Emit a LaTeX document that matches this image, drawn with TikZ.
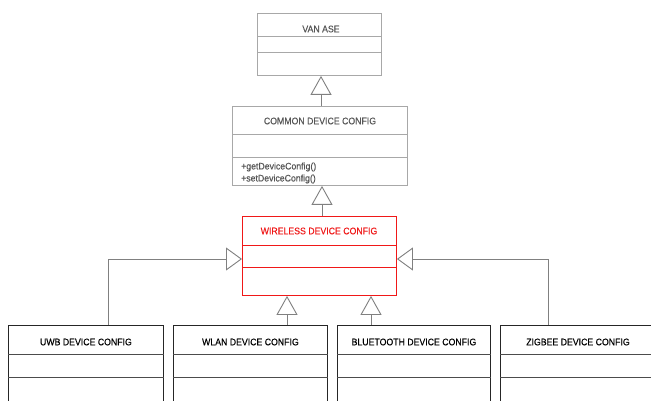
\documentclass[tikz,border=0pt]{standalone}
\usepackage{fontspec}
\setmainfont[FakeStretch=0.92,FakeBold=0.3]{Liberation Sans}
\usetikzlibrary{arrows.meta,calc}
\definecolor{lgray}{HTML}{A8A8A8}
\definecolor{tgray}{HTML}{555555}
\definecolor{cgray}{HTML}{808080}
\definecolor{wred}{HTML}{F01818}
\begin{document}
\begin{tikzpicture}[x=1pt,y=-1pt,
  box/.style={draw=#1, line width=0.9pt, fill=white, anchor=north west, inner sep=0pt},
  title/.style={font=\fontsize{9.5}{11}\selectfont, inner sep=0pt},
  inh/.style={cgray, line width=0.9pt, -{Triangle[open, length=19pt, width=21pt, fill=white, line width=0.9pt]}},
  inhs/.style={cgray, line width=0.9pt, -{Triangle[open, length=16pt, width=23pt, fill=white, line width=0.9pt]}}]
\useasboundingbox (0,0) rectangle (651,401);
\clip (0,0) rectangle (651,401);
\fill[white] (0,0) rectangle (651,401);

% VAN ASE
\node[box=lgray, minimum width=124pt, minimum height=62pt] (van) at (257,13) {};
\draw[lgray, line width=0.8pt] ($(van.north west)+(0,23)$) -- ($(van.north east)+(0,23)$);
\draw[lgray, line width=0.8pt] ($(van.north west)+(0,39)$) -- ($(van.north east)+(0,39)$);
\node[title, text=tgray] (vant) at (321,29) {VAN ASE};

% COMMON DEVICE CONFIG
\node[box=lgray, minimum width=175pt, minimum height=79pt] (com) at (232,106) {};
\draw[lgray, line width=0.8pt] ($(com.north west)+(0,28)$) -- ($(com.north east)+(0,28)$);
\draw[lgray, line width=0.8pt] ($(com.north west)+(0,51)$) -- ($(com.north east)+(0,51)$);
\node[title, text=tgray] (comt) at (320,121) {COMMON DEVICE CONFIG};
\node[title, text=tgray, anchor=west] (comm1) at (241,167) {+getDeviceConfig()};
\node[title, text=tgray, anchor=west] (comm2) at (241,179) {+setDeviceConfig()};

% WIRELESS DEVICE CONFIG
\node[box=wred, minimum width=154pt, minimum height=79pt] (wir) at (242,216) {};
\draw[wred, line width=0.8pt] ($(wir.north west)+(0,29)$) -- ($(wir.north east)+(0,29)$);
\draw[wred, line width=0.8pt] ($(wir.north west)+(0,51)$) -- ($(wir.north east)+(0,51)$);
\node[title, text=wred] (wirt) at (319,231) {WIRELESS DEVICE CONFIG};

% bottom boxes
\foreach \n/\x/\w/\t in {uwb/8/155/UWB DEVICE CONFIG, wlan/173/154/WLAN DEVICE CONFIG, bt/337/153/BLUETOOTH DEVICE CONFIG, zig/500/155/ZIGBEE DEVICE CONFIG}{
  \node[box=black!85, minimum width=\w pt, minimum height=90pt] (\n) at (\x,325) {};
  \draw[black!70, line width=0.9pt] ($(\n.north west)+(0,29)$) -- ($(\n.north east)+(0,29)$);
  \draw[black!70, line width=0.9pt] ($(\n.north west)+(0,52)$) -- ($(\n.north east)+(0,52)$);
  \node[title, text=black] (\n t) at ($(\n.north)+(0,17)$) {\t};
}

% inheritance connectors
\coordinate (c0) at (321,0);
\coordinate (c1) at (322,0);
\coordinate (cw) at (287,0);
\coordinate (cb) at (371,0);
\coordinate (cl) at (108,259);
\coordinate (cr) at (548,259);
\draw[inh] (com.north -| c0) -- (van.south -| c0);
\draw[inh] (wir.north -| c1) -- (com.south -| c1);
\draw[inhs] (uwb.north -| cl) -- (cl) -- (wir.west |- cl);
\draw[inhs] (zig.north -| cr) -- (cr) -- (wir.east |- cr);
\draw[inh] (wlan.north -| cw) -- (wir.south -| cw);
\draw[inh] (bt.north -| cb) -- (wir.south -| cb);
\end{tikzpicture}
\end{document}
